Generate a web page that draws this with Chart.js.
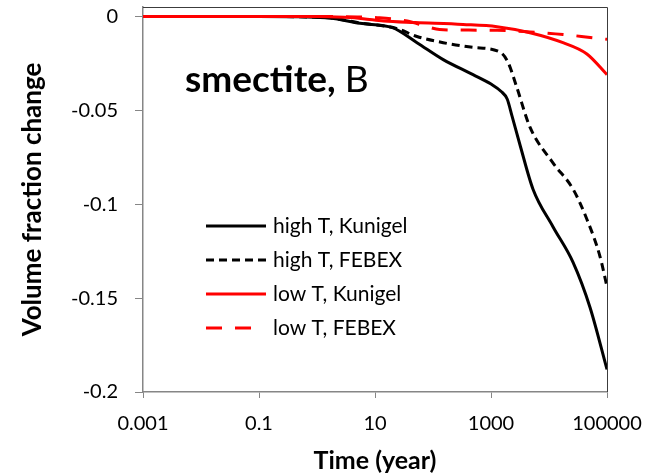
<!DOCTYPE html>
<html>
<head>
<meta charset="utf-8">
<script src="https://cdn.jsdelivr.net/npm/chart.js@4.4.1/dist/chart.umd.min.js"></script>
<style>
  html, body { margin: 0; padding: 0; background: #ffffff; }
  #chart { display: block; }
</style>
</head>
<body>
<canvas id="chart" width="660" height="476"></canvas>
<script>
// time (year) and volume fraction change
const highKunigelTime = [0.001, 0.01, 0.1, 0.5, 1.7, 5.5, 20, 53, 150, 490, 1000, 1500, 1900, 2300, 3200, 5300, 11700, 26000, 51000, 100000];
const highKunigelVal  = [0, 0, 0, -0.0002, -0.0008, -0.0037, -0.006, -0.014, -0.023, -0.031, -0.036, -0.040, -0.044, -0.053, -0.069, -0.092, -0.112, -0.131, -0.155, -0.188];

const highFebexTime = [0.001, 0.01, 0.1, 0.5, 1.7, 5.5, 24, 53, 150, 490, 1430, 1970, 2800, 4700, 11700, 26000, 45000, 76000, 100000];
const highFebexVal  = [0, 0, 0, -0.0002, -0.0008, -0.0035, -0.0065, -0.0107, -0.014, -0.0165, -0.019, -0.0245, -0.038, -0.059, -0.078, -0.092, -0.108, -0.128, -0.144];

const lowKunigelTime = [0.001, 0.01, 0.1, 1, 3, 6.2, 14, 50, 330, 1270, 4700, 17400, 45000, 100000];
const lowKunigelVal  = [0, 0, 0, 0, -0.0005, -0.0012, -0.0025, -0.0033, -0.0043, -0.0055, -0.0087, -0.014, -0.020, -0.031];

const lowFebexTime = [0.001, 0.01, 0.1, 1, 5, 12, 36, 80, 130, 330, 1270, 4700, 17400, 57000, 100000];
const lowFebexVal  = [0, 0, 0, 0, -0.0003, -0.0007, -0.0025, -0.0055, -0.007, -0.0073, -0.0074, -0.0083, -0.0096, -0.0114, -0.0122];

const seriesLabels = ['high T, Kunigel', 'high T, FEBEX', 'low T, Kunigel', 'low T, FEBEX'];

const xTicks = [0.001, 0.1, 10, 1000, 100000];
const xTickLabels = ['0.001', '0.1', '10', '1000', '100000'];
const yTicks = [0, -0.05, -0.1, -0.15, -0.2];
const yTickLabels = ['0', '-0.05', '-0.1', '-0.15', '-0.2'];

const FONT = 'Lato, "Open Sans", sans-serif';
const AXIS_GREY = '#868686';

function toPoints(xs, ys) {
    return xs.map((x, i) => ({ x: x, y: ys[i] }));
}

function lineSet(label, xs, ys, color, dash, order) {
    return {
        label: label,
        data: toPoints(xs, ys),
        borderColor: color,
        backgroundColor: color,
        borderWidth: 3,
        borderDash: dash,
        pointRadius: 0,
        cubicInterpolationMode: 'monotone',
        fill: false,
        order: order
    };
}

// dark frame on top and right, like the original plot area
const frame = {
    id: 'frame',
    afterDatasetsDraw(chart) {
        const { ctx, chartArea: a } = chart;
        ctx.save();
        ctx.strokeStyle = '#3c3c3c';
        ctx.lineWidth = 1;
        ctx.beginPath();
        ctx.moveTo(a.left, a.top + 0.5);
        ctx.lineTo(a.right + 0.5, a.top + 0.5);
        ctx.lineTo(a.right + 0.5, a.bottom);
        ctx.stroke();
        ctx.restore();
    }
};

// in-plot legend and "smectite, B" label
const inside = {
    id: 'inside',
    afterDraw(chart) {
        const { ctx, chartArea: a, scales } = chart;
        ctx.save();

        const lx = a.left + 63;
        let ly = a.top + 219;
        chart.data.datasets.forEach(ds => {
            // drop a tiny dash fragment at the end of the sample line
            let len = 60;
            if (ds.borderDash.length) {
                const period = ds.borderDash[0] + ds.borderDash[1];
                const rest = len % period;
                if (rest < ds.borderDash[0] / 2) len -= rest;
            }
            ctx.strokeStyle = ds.borderColor;
            ctx.lineWidth = 3;
            ctx.setLineDash(ds.borderDash);
            ctx.beginPath();
            ctx.moveTo(lx, ly);
            ctx.lineTo(lx + len, ly);
            ctx.stroke();
            ctx.setLineDash([]);
            ctx.fillStyle = '#000';
            ctx.font = '21px ' + FONT;
            ctx.textBaseline = 'middle';
            ctx.textAlign = 'left';
            ctx.fillText(ds.label, lx + 67, ly);
            ly += 34;
        });

        const tx = scales.x.getPixelForValue(0.0053);
        const ty = scales.y.getPixelForValue(-0.0405);
        ctx.textBaseline = 'alphabetic';
        ctx.font = 'bold 37px ' + FONT;
        ctx.fillText('smectite,', tx, ty);
        const w = ctx.measureText('smectite, ').width;
        ctx.font = '37px ' + FONT;
        ctx.fillText('B', tx + w, ty);
        ctx.restore();
    }
};

new Chart(document.getElementById('chart'), {
    type: 'line',
    data: {
        datasets: [
            lineSet(seriesLabels[0], highKunigelTime, highKunigelVal, '#000000', [], 2),
            lineSet(seriesLabels[1], highFebexTime, highFebexVal, '#000000', [8, 5], 2),
            lineSet(seriesLabels[2], lowKunigelTime, lowKunigelVal, '#ff0000', [], 1),
            lineSet(seriesLabels[3], lowFebexTime, lowFebexVal, '#ff0000', [16, 13], 1)
        ]
    },
    options: {
        responsive: false,
        animation: false,
        devicePixelRatio: 1,
        layout: { padding: { top: 7, right: 53, left: 0, bottom: 0 } },
        plugins: {
            legend: { display: false },
            tooltip: { enabled: false }
        },
        scales: {
            x: {
                type: 'logarithmic',
                min: 0.001,
                max: 100000,
                afterBuildTicks: axis => { axis.ticks = xTicks.map(v => ({ value: v })); },
                afterFit: axis => {
                    axis.height = 84;
                    axis.paddingLeft = 0;
                    axis.paddingRight = 0;
                },
                ticks: {
                    color: '#000',
                    font: { family: FONT, size: 20 },
                    padding: 14,
                    maxRotation: 0,
                    autoSkip: false,
                    callback: (v) => xTickLabels[xTicks.indexOf(v)]
                },
                grid: { drawOnChartArea: false, tickLength: 6, color: AXIS_GREY },
                border: { color: AXIS_GREY, width: 1.5 },
                title: {
                    display: true,
                    text: 'Time (year)',
                    color: '#000',
                    font: { family: FONT, size: 25, weight: 'bold' },
                    padding: { top: 0, bottom: 0 }
                }
            },
            y: {
                type: 'linear',
                min: -0.2,
                max: 0.005,
                afterBuildTicks: axis => { axis.ticks = yTicks.map(v => ({ value: v })); },
                afterFit: axis => {
                    axis.width = 143;
                    axis.paddingTop = 0;
                    axis.paddingBottom = 0;
                },
                ticks: {
                    color: '#000',
                    font: { family: FONT, size: 20 },
                    padding: 17,
                    callback: (v) => yTickLabels[yTicks.indexOf(v)]
                },
                grid: { drawOnChartArea: false, tickLength: 8, color: AXIS_GREY },
                border: { color: AXIS_GREY, width: 1.5 },
                title: {
                    display: true,
                    text: 'Volume fraction change',
                    color: '#000',
                    font: { family: FONT, size: 26, weight: 'bold' },
                    padding: { top: 17, bottom: 0 }
                }
            }
        }
    },
    plugins: [frame, inside]
});
</script>
</body>
</html>
